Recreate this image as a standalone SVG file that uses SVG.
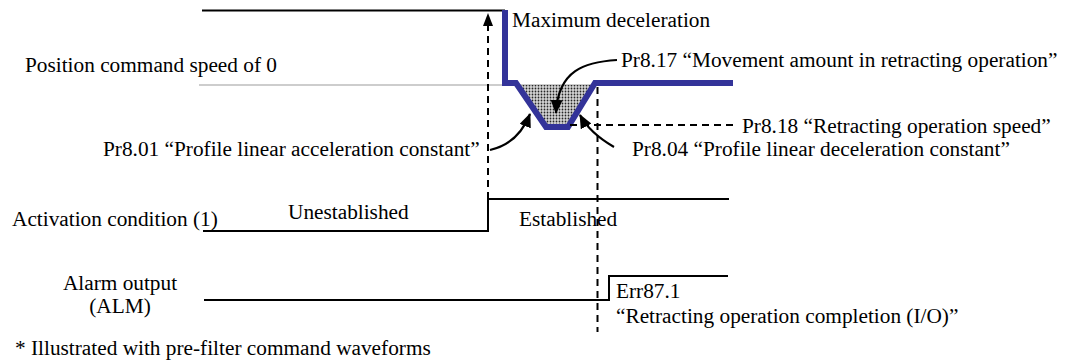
<svg xmlns="http://www.w3.org/2000/svg" width="1069" height="362" viewBox="0 0 1069 362">
<style>
text{font-family:"Liberation Serif","Times New Roman",serif;font-size:21.3px;fill:#000}
.ln{fill:none;stroke:#000;stroke-width:2}
.dash{fill:none;stroke:#000;stroke-width:2;stroke-dasharray:7 5}
.arc{fill:none;stroke:#000;stroke-width:2.2}
.blue{fill:none;stroke:#333399;stroke-width:6;stroke-linejoin:miter}
</style>
<defs>
<pattern id="dots" width="3" height="3" patternUnits="userSpaceOnUse">
<rect width="3" height="3" fill="#d6d6d6"/>
<circle cx="1.5" cy="1.5" r="0.9" fill="#262626"/>
</pattern>
<marker id="ah" viewBox="0 0 14 12" refX="13" refY="6" markerWidth="14" markerHeight="12" markerUnits="userSpaceOnUse" orient="auto">
<path d="M0,0 L14,6 L0,12 Z" fill="#000"/>
</marker>
</defs>
<g id="speed-waveform">
<path class="ln" d="M202,10.5 H505"/>
<path d="M199,85 H600" stroke="#bdbdbd" stroke-width="1.6" fill="none"/>
<polygon points="516,85 546,127 568,127 595,85" fill="url(#dots)"/>
<path class="blue" d="M505,10 V83 H516 L546,127 H568 L595,83 H733"/>
<text x="512" y="27">Maximum deceleration</text>
<text x="25" y="72">Position command speed of 0</text>
</g>
<g id="activation-condition">
<path class="ln" d="M203,231 H488 V199 H729"/>
<text x="12" y="226">Activation condition (1)</text>
<text x="288" y="219">Unestablished</text>
<text x="519" y="226">Established</text>
</g>
<g id="alarm-output">
<path class="ln" d="M204,300 H609 V276 H728"/>
<text x="120" y="290" text-anchor="middle">Alarm output</text>
<text x="120" y="313" text-anchor="middle">(ALM)</text>
<text x="616" y="298">Err87.1</text>
<text x="616" y="323">“Retracting operation completion (I/O)”</text>
</g>
<g id="labels">
<text x="621" y="67">Pr8.17 “Movement amount in retracting operation”</text>
<text x="742" y="133">Pr8.18 “Retracting operation speed”</text>
<text x="103" y="156">Pr8.01 “Profile linear acceleration constant”</text>
<text x="632" y="156">Pr8.04 “Profile linear deceleration constant”</text>
<text x="15" y="355">* Illustrated with pre-filter command waveforms</text>
</g>
<g id="connectors">
<path class="dash" d="M488,199 V26"/>
<polygon points="488,13 483,26 493,26" fill="#000"/>
<path class="dash" d="M597.5,87 V332"/>
<path class="dash" d="M570,125 H733"/>
<path class="arc" d="M617,60 C585,62 558,70 556,113" marker-end="url(#ah)"/>
<path class="arc" d="M490,150 C508,146 522,134 530,114" marker-end="url(#ah)"/>
<path class="arc" d="M614,147 C602,140 588,130 580,115" marker-end="url(#ah)"/>
</g>
</svg>
